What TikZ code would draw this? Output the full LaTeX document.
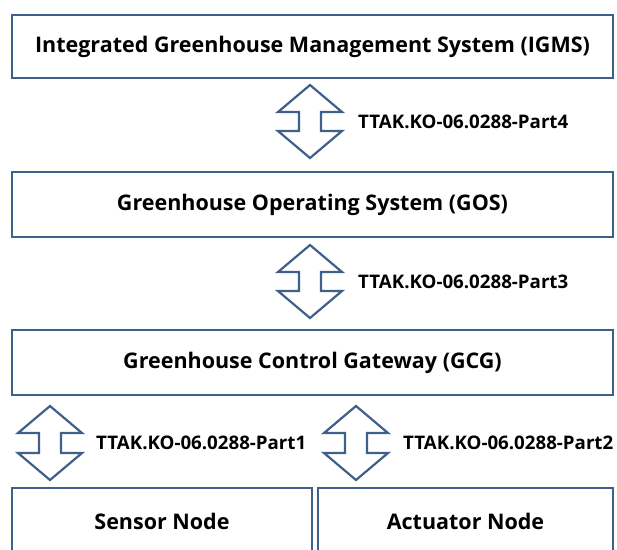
\documentclass[tikz,border=0pt]{standalone}
\usepackage{fontspec}
\setmainfont{Open Sans}
\usetikzlibrary{calc}
\definecolor{boxblue}{RGB}{62,96,138}
\tikzset{
  boxnode/.style={draw=boxblue, line width=2.6pt, fill=white, inner sep=0pt,
    font=\bfseries\fontsize{21.5}{24}\selectfont, text=black},
  lbl/.style={anchor=west, inner sep=0pt, font=\bfseries\fontsize{18.7}{21}\selectfont, text=black},
  barrow/.style={draw=boxblue, line width=2.2pt, fill=white, line join=miter}
}
\newcommand\udarrow[2]{% top coordinate, bottom coordinate
  \draw[barrow] (#1) -- ++(32,27) -- ++(-21,0) -- ($(#2)+(11,-27)$) -- ++(21,0)
    -- (#2) -- ++(-32,-27) -- ++(21,0) -- ($(#1)+(-11,27)$) -- ++(-21,0) -- cycle;}
\begin{document}
\begin{tikzpicture}[x=1pt,y=-1pt]
\useasboundingbox (0,0) rectangle (617,549);
\clip (0,0) rectangle (617,549);
\node[boxnode, minimum width=601pt, minimum height=63pt] (igms) at (312.5,46.5)
  {Integrated Greenhouse Management System (IGMS)};
\node[boxnode, minimum width=601pt, minimum height=65pt] (gos) at (312.5,204.5)
  {Greenhouse Operating System (GOS)};
\node[boxnode, minimum width=601pt, minimum height=65pt] (gcg) at (312.5,362.5)
  {Greenhouse Control Gateway (GCG)};
\node[boxnode, minimum width=300pt, minimum height=66pt] (sensor) at (162,521)
  {Sensor Node};
\node[boxnode, minimum width=295pt, minimum height=66pt] (actuator) at (465.5,521)
  {Actuator Node};
\coordinate (a1t) at (310,85);  \coordinate (a1b) at (310,158);
\coordinate (a2t) at (310,245); \coordinate (a2b) at (310,318);
\coordinate (a3t) at (50,406);  \coordinate (a3b) at (50,480);
\coordinate (a4t) at (356,406); \coordinate (a4b) at (356,480);
\udarrow{a1t}{a1b}
\udarrow{a2t}{a2b}
\udarrow{a3t}{a3b}
\udarrow{a4t}{a4b}
\node[lbl] (l1) at (358,122) {TTAK.KO-06.0288-Part4};
\node[lbl] (l2) at (358,282) {TTAK.KO-06.0288-Part3};
\node[lbl] (l3) at (96,443) {TTAK.KO-06.0288-Part1};
\node[lbl] (l4) at (403,443) {TTAK.KO-06.0288-Part2};
\end{tikzpicture}
\end{document}
